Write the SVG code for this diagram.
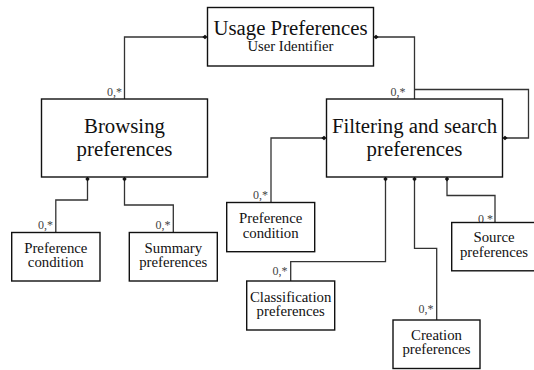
<svg xmlns="http://www.w3.org/2000/svg" width="534" height="370" viewBox="0 0 534 370">
<style>
.box{fill:#fff;stroke:#111;stroke-width:1.4}
text{font-family:"Liberation Serif","DejaVu Serif",serif;fill:#111;text-anchor:middle}
.big{font-size:20.8px}
.sub{font-size:14.7px}
.sm{font-size:14.8px}
.card{font-size:12px;fill:#444;text-anchor:end}
.con{fill:none;stroke:#333;stroke-width:1.3}
</style>
<defs>
<marker id="dia" viewBox="-3 -3 6 6" markerWidth="6" markerHeight="6" refX="0" refY="0" markerUnits="userSpaceOnUse" orient="auto">
<path d="M-2.6 0 L0 -2.2 L2.6 0 L0 2.2 Z" fill="#111"/>
</marker>
</defs>
<g id="connectors">
<path class="con" d="M205 37 H124.5 V99" marker-start="url(#dia)"/>
<path class="con" d="M376 37 H414.5 V99" marker-start="url(#dia)"/>
<path class="con" d="M414.5 89.5 H528.5 V138 H505" marker-end="url(#dia)"/>
<path class="con" d="M324 138 H271 V202.5" marker-start="url(#dia)"/>
<path class="con" d="M87.5 179 V200 H55.8 V232.5" marker-start="url(#dia)"/>
<path class="con" d="M124.5 179 V205 H173.3 V232.5" marker-start="url(#dia)"/>
<path class="con" d="M385.5 179 V261.7 H290.7 V281" marker-start="url(#dia)"/>
<path class="con" d="M414.5 179 V248.3 H436.7 V320" marker-start="url(#dia)"/>
<path class="con" d="M447 179 V195.5 H495 V222.5" marker-start="url(#dia)"/>
<text class="card" x="122" y="96">0,*</text>
<text class="card" x="405.5" y="95.7">0,*</text>
<text class="card" x="53" y="228.5">0,*</text>
<text class="card" x="170.5" y="228.5">0,*</text>
<text class="card" x="268" y="198.5">0,*</text>
<text class="card" x="287.5" y="275">0,*</text>
<text class="card" x="433.5" y="313">0,*</text>
<text class="card" x="493" y="222.5">0,*</text>
</g>
<g id="usage">
<rect class="box" x="207.5" y="7.5" width="166" height="58.5"/>
<text x="290.5"><tspan class="big" x="290.5" y="35">Usage Preferences</tspan><tspan class="sub" x="290.5" y="50.5">User Identifier</tspan></text>
</g>
<g id="browsing">
<rect class="box" x="41.5" y="99" width="166" height="78"/>
<text class="big" x="124.5"><tspan x="124.5" y="133">Browsing</tspan><tspan x="124.5" y="155.7">preferences</tspan></text>
</g>
<g id="filtering">
<rect class="box" x="326.5" y="99" width="176" height="78"/>
<text class="big" x="414.5"><tspan x="414.5" y="133.3">Filtering and search</tspan><tspan x="414.5" y="155.7">preferences</tspan></text>
</g>
<g id="prefcond-left">
<rect class="box" x="11.7" y="232.5" width="88.3" height="48.5"/>
<text class="sm" x="55.8"><tspan x="55.8" y="252.7">Preference</tspan><tspan x="55.8" y="267.3">condition</tspan></text>
</g>
<g id="summary">
<rect class="box" x="129.3" y="232.5" width="88" height="48.5"/>
<text class="sm" x="173.3"><tspan x="173.3" y="252.7">Summary</tspan><tspan x="173.3" y="267.3">preferences</tspan></text>
</g>
<g id="prefcond-right">
<rect class="box" x="226.7" y="202.5" width="88" height="49.2"/>
<text class="sm" x="270.7"><tspan x="270.7" y="222.7">Preference</tspan><tspan x="270.7" y="237.5">condition</tspan></text>
</g>
<g id="classification">
<rect class="box" x="246.7" y="281" width="88" height="49"/>
<text class="sm" x="290.7"><tspan x="290.7" y="301.5">Classification</tspan><tspan x="290.7" y="316.3">preferences</tspan></text>
</g>
<g id="creation">
<rect class="box" x="393" y="320" width="87" height="48.5"/>
<text class="sm" x="436.5"><tspan x="436.5" y="339.5">Creation</tspan><tspan x="436.5" y="354.3">preferences</tspan></text>
</g>
<g id="source">
<rect class="box" x="451.7" y="222.5" width="86" height="48.3"/>
<text class="sm" x="494"><tspan x="494" y="242">Source</tspan><tspan x="494" y="256.7">preferences</tspan></text>
</g>
</svg>
